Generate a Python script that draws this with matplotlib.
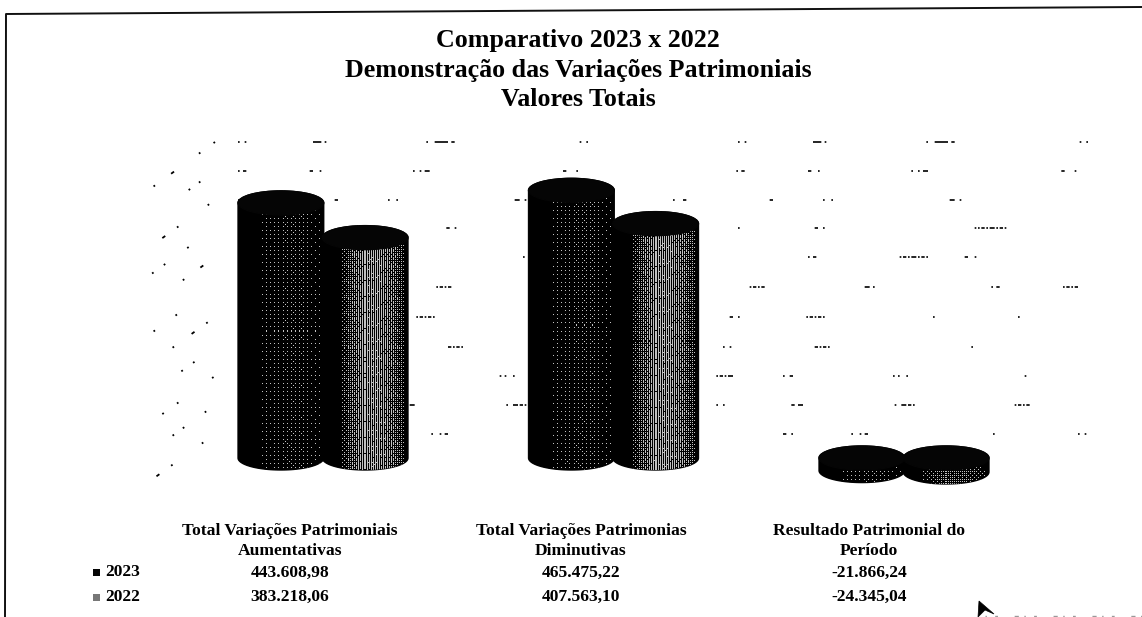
import numpy as np
import matplotlib
matplotlib.use('Agg')
import matplotlib.pyplot as plt
from matplotlib.patches import Ellipse, Polygon, Rectangle

plt.rcParams['font.family'] = ['Liberation Serif', 'DejaVu Serif']

# Data
categories = [['Total Variações Patrimoniais', 'Aumentativas'],
              ['Total Variações Patrimonias', 'Diminutivas'],
              ['Resultado Patrimonial do', 'Período']]
values_2023 = [443608.98, 465475.22, -21866.24]
values_2022 = [383218.06, 407563.10, -24345.04]
years = ['2023', '2022']
title_lines = ['Comparativo 2023 x 2022',
               'Demonstração das Variações Patrimoniais',
               'Valores Totais']

W, H = 1142, 617
ZERO_X, UNIT_X = 323, 290.5  # pixels of group 0 and between groups
ZERO_Y, UNIT_Y = 458, 0.575 / 1000  # pixel of value 0, pixels per value unit


def xd(px):
    return (px - ZERO_X) / UNIT_X


def yd(py):
    return (ZERO_Y - py) / UNIT_Y


def money(v):
    s = f'{v:,.2f}'
    return s.replace(',', '#').replace('.', ',').replace('#', '.')


bayer = np.array([[0, 32, 8, 40, 2, 34, 10, 42],
                  [48, 16, 56, 24, 50, 18, 58, 26],
                  [12, 44, 4, 36, 14, 46, 6, 38],
                  [60, 28, 52, 20, 62, 30, 54, 22],
                  [3, 35, 11, 43, 1, 33, 9, 41],
                  [51, 19, 59, 27, 49, 17, 57, 25],
                  [15, 47, 7, 39, 13, 45, 5, 37],
                  [63, 31, 55, 23, 61, 29, 53, 21]]) / 64


def cylinder(ax, x, value, peak, width=0.295, cap_px=24):
    cap = cap_px / UNIT_Y
    hi, lo = max(value, 0), min(value, 0)
    t = np.linspace(0, np.pi, 60)
    px = x + width / 2 * np.cos(t)
    top = np.column_stack([px, hi + cap / 2 * np.sin(t)])
    bottom = np.column_stack([px[::-1], lo - cap / 2 * np.sin(t)])
    outline = Polygon(np.vstack([top, bottom]), closed=True, fc='#050505',
                      ec='#050505', lw=1, zorder=3)
    ax.add_patch(outline)

    # dithered shading, like the scanned halftone
    nx = int(width * UNIT_X)
    ny = max(int((hi - lo + cap) * UNIT_Y), 2)
    u = np.linspace(-1, 1, nx)
    v = np.arange(ny)
    shade = peak * np.clip(1 - ((u - 0.2) / 0.8) ** 2, 0, 1)
    wobble = 0.85 + 0.15 * np.sin(v[:, None] / 5.3 + u[None, :] * 6) * np.sin(v[:, None] / 1.7)
    shade = shade[None, :] * wobble
    rows_i = (v * 5) % 8
    shift = (v * v * 3) % 8
    tile = bayer[rows_i[:, None], (np.arange(nx)[None, :] + shift[:, None]) % 8]
    img = (shade > tile).astype(float) * 0.75
    im = ax.imshow(img, cmap='gray', vmin=0, vmax=1, aspect='auto',
                   interpolation='nearest', zorder=4,
                   extent=[x - width / 2, x + width / 2,
                           lo - cap / 2, hi + cap / 2])
    im.set_clip_path(outline)
    ax.add_patch(Ellipse((x, hi), width, cap, fc='#050505', ec='#050505',
                         lw=1, zorder=5))


fig = plt.figure(figsize=(W / 100, H / 100), dpi=100)
ax = fig.add_axes([0, 0, 1, 1])

# what survives of the back wall gridlines after the scan
rows = [142, 171, 200, 228, 257, 287, 317, 347, 376, 405, 434]
row_dashes = [(1, 3, 1, 40, 5, 2, 1, 60, 1, 4, 8, 2, 2, 75, 1, 3, 1, 90),
              (1, 2, 2, 38, 2, 4, 1, 55, 1, 3, 1, 2, 3, 80, 2, 6, 1, 95),
              (1, 5, 2, 50, 2, 30, 1, 4, 1, 70, 3, 3, 1, 88),
              (1, 1, 1, 1, 2, 1, 1, 1, 3, 1, 1, 1, 2, 1, 1, 60, 1, 45, 2, 3, 1, 90),
              (1, 2, 2, 50, 1, 1, 2, 1, 1, 1, 3, 1, 1, 1, 2, 1, 1, 22, 2, 4, 1, 70),
              (3, 2, 1, 70, 1, 2, 2, 38, 1, 1, 2, 1, 1, 1, 2, 60),
              (1, 60, 2, 3, 1, 40, 1, 1, 2, 1, 1, 1, 2, 1, 1, 65, 1, 50),
              (1, 70, 1, 3, 1, 50, 2, 1, 1, 1, 2, 1, 1, 85),
              (1, 50, 1, 1, 2, 1, 1, 1, 3, 30, 1, 3, 2, 60, 1, 2, 1, 4, 1, 70),
              (1, 1, 2, 1, 1, 1, 2, 45, 1, 3, 1, 40, 2, 2, 3, 55, 1, 3, 3, 1, 2, 1, 1, 60),
              (1, 3, 1, 70, 2, 3, 1, 35, 1, 4, 1, 2, 2, 75, 1, 50)]
wall_dashes = [(1, 9, 1, 17, 2, 11, 1, 23), (1, 14, 1, 6, 1, 28), (2, 12, 1, 20, 1, 8),
               (1, 7, 1, 24, 1, 15)]
for i, (row, dash) in enumerate(zip(rows, row_dashes)):
    ax.plot([xd(238), xd(1088)], [yd(row), yd(row)], color='k', lw=1.2,
            ls=(0, dash), zorder=1)
    ax.plot([xd(215), xd(150)], [yd(row), yd(row + 47)], color='k', lw=1.3,
            ls=(i * 5, wall_dashes[i % 4]), zorder=1)

for i in range(len(categories)):
    cylinder(ax, i - 0.145, values_2023[i], 0.08)
    cylinder(ax, i + 0.145, values_2022[i], 0.6 if i < 2 else 0.25)

# titles
for line, py in zip(title_lines, [40, 71, 100]):
    ax.text(xd(578), yd(py), line, fontsize=18.7, fontweight='bold',
            ha='center', va='center', zorder=6)

# table below the chart
col_x = [290, 581, 869]
for cat, cx, v23, v22 in zip(categories, col_x, values_2023, values_2022):
    for text, py in zip([cat[0], cat[1], money(v23), money(v22)],
                        [531, 551, 573, 597]):
        ax.text(xd(cx), yd(py), text, fontsize=12.6, fontweight='bold',
                ha='center', va='center')

for year, py, col in zip(years, [572, 597], ['#050505', '#777777']):
    ax.add_patch(Rectangle((xd(93), yd(py + 3.5)), 7 / UNIT_X, 7 / UNIT_Y,
                           fc=col, ec='none'))
    ax.text(xd(105), yd(py), year, fontsize=12.6, fontweight='bold',
            ha='left', va='center')

# page border and the stray arrow of the scan
ax.plot([xd(5), xd(6), xd(W)], [yd(H), yd(14), yd(7)], color='#111111', lw=1.4)
ax.plot([xd(985), xd(W)], [yd(616), yd(616)], color='#999999', lw=1,
        ls=(0, (1, 6, 2, 12, 3, 4)))
ax.add_patch(Polygon([(xd(979), yd(601)), (xd(994), yd(614)), (xd(985), yd(610)),
                      (xd(978), yd(617))], closed=True, fc='k', ec='k', lw=0.5))

ax.set_xlim(xd(0), xd(W))
ax.set_ylim(yd(H), yd(0))
ax.axis('off')

plt.savefig('out.png', dpi=100)
